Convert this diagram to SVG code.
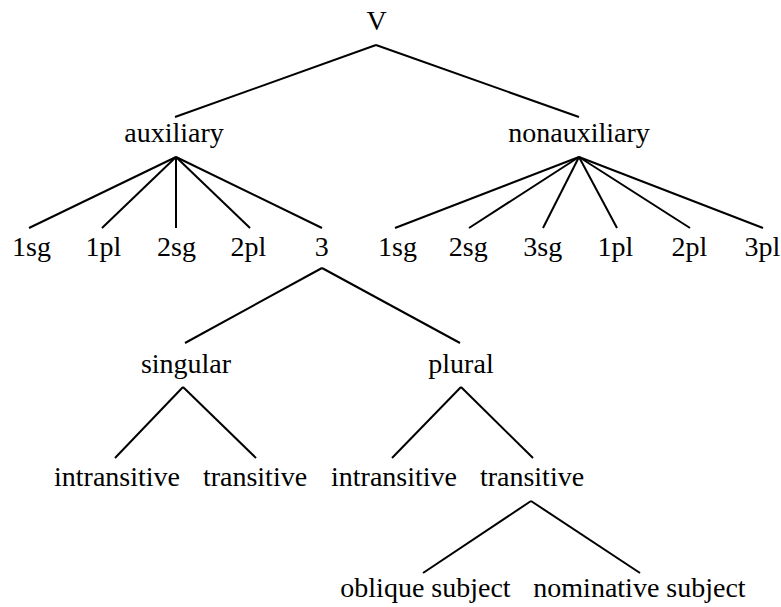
<svg xmlns="http://www.w3.org/2000/svg" width="781" height="607" viewBox="0 0 781 607">
<style>
text{font-family:"Liberation Serif","Times New Roman",serif;font-size:28px;fill:#000;text-anchor:middle}
.e line{stroke:#000;stroke-width:2;stroke-linecap:butt}
</style>
<rect width="781" height="607" fill="#fff"/>
<g class="e" id="connectors">
<line x1="376" y1="45" x2="175" y2="117"/>
<line x1="376" y1="45" x2="579" y2="117"/>
<line x1="176" y1="157" x2="29" y2="228"/>
<line x1="176" y1="157" x2="102" y2="228"/>
<line x1="176" y1="157" x2="176" y2="228"/>
<line x1="176" y1="157" x2="250" y2="228"/>
<line x1="176" y1="157" x2="322" y2="228"/>
<line x1="579" y1="157" x2="395" y2="228"/>
<line x1="579" y1="157" x2="469" y2="228"/>
<line x1="579" y1="157" x2="543" y2="228"/>
<line x1="579" y1="157" x2="617" y2="228"/>
<line x1="579" y1="157" x2="690" y2="228"/>
<line x1="579" y1="157" x2="763" y2="228"/>
<line x1="322" y1="268" x2="185" y2="343"/>
<line x1="322" y1="268" x2="460" y2="343"/>
<line x1="183" y1="387" x2="115" y2="458"/>
<line x1="183" y1="387" x2="256" y2="458"/>
<line x1="461" y1="387" x2="392" y2="458"/>
<line x1="461" y1="387" x2="533" y2="458"/>
<line x1="531" y1="501" x2="423" y2="573"/>
<line x1="531" y1="501" x2="640" y2="573"/>
</g>
<g id="n-V"><text x="376.5" y="30">V</text></g>
<g id="n-auxiliary"><text x="174" y="142">auxiliary</text></g>
<g id="n-nonauxiliary"><text x="579" y="142">nonauxiliary</text></g>
<g id="n-aux-1sg"><text x="31.5" y="256">1sg</text></g>
<g id="n-aux-1pl"><text x="103.5" y="256">1pl</text></g>
<g id="n-aux-2sg"><text x="176.5" y="256">2sg</text></g>
<g id="n-aux-2pl"><text x="248.5" y="256">2pl</text></g>
<g id="n-aux-3"><text x="321.7" y="256">3</text></g>
<g id="n-non-1sg"><text x="397.5" y="256">1sg</text></g>
<g id="n-non-2sg"><text x="468.3" y="256">2sg</text></g>
<g id="n-non-3sg"><text x="542.7" y="256">3sg</text></g>
<g id="n-non-1pl"><text x="615.5" y="256">1pl</text></g>
<g id="n-non-2pl"><text x="689.5" y="256">2pl</text></g>
<g id="n-non-3pl"><text x="762.5" y="256">3pl</text></g>
<g id="n-singular"><text x="186" y="373">singular</text></g>
<g id="n-plural"><text x="461" y="373">plural</text></g>
<g id="n-sg-intransitive"><text x="117" y="486">intransitive</text></g>
<g id="n-sg-transitive"><text x="255" y="486">transitive</text></g>
<g id="n-pl-intransitive"><text x="394" y="486">intransitive</text></g>
<g id="n-pl-transitive"><text x="532" y="486">transitive</text></g>
<g id="n-oblique"><text x="425.5" y="597">oblique subject</text></g>
<g id="n-nominative"><text x="639.5" y="597">nominative subject</text></g>
</svg>
